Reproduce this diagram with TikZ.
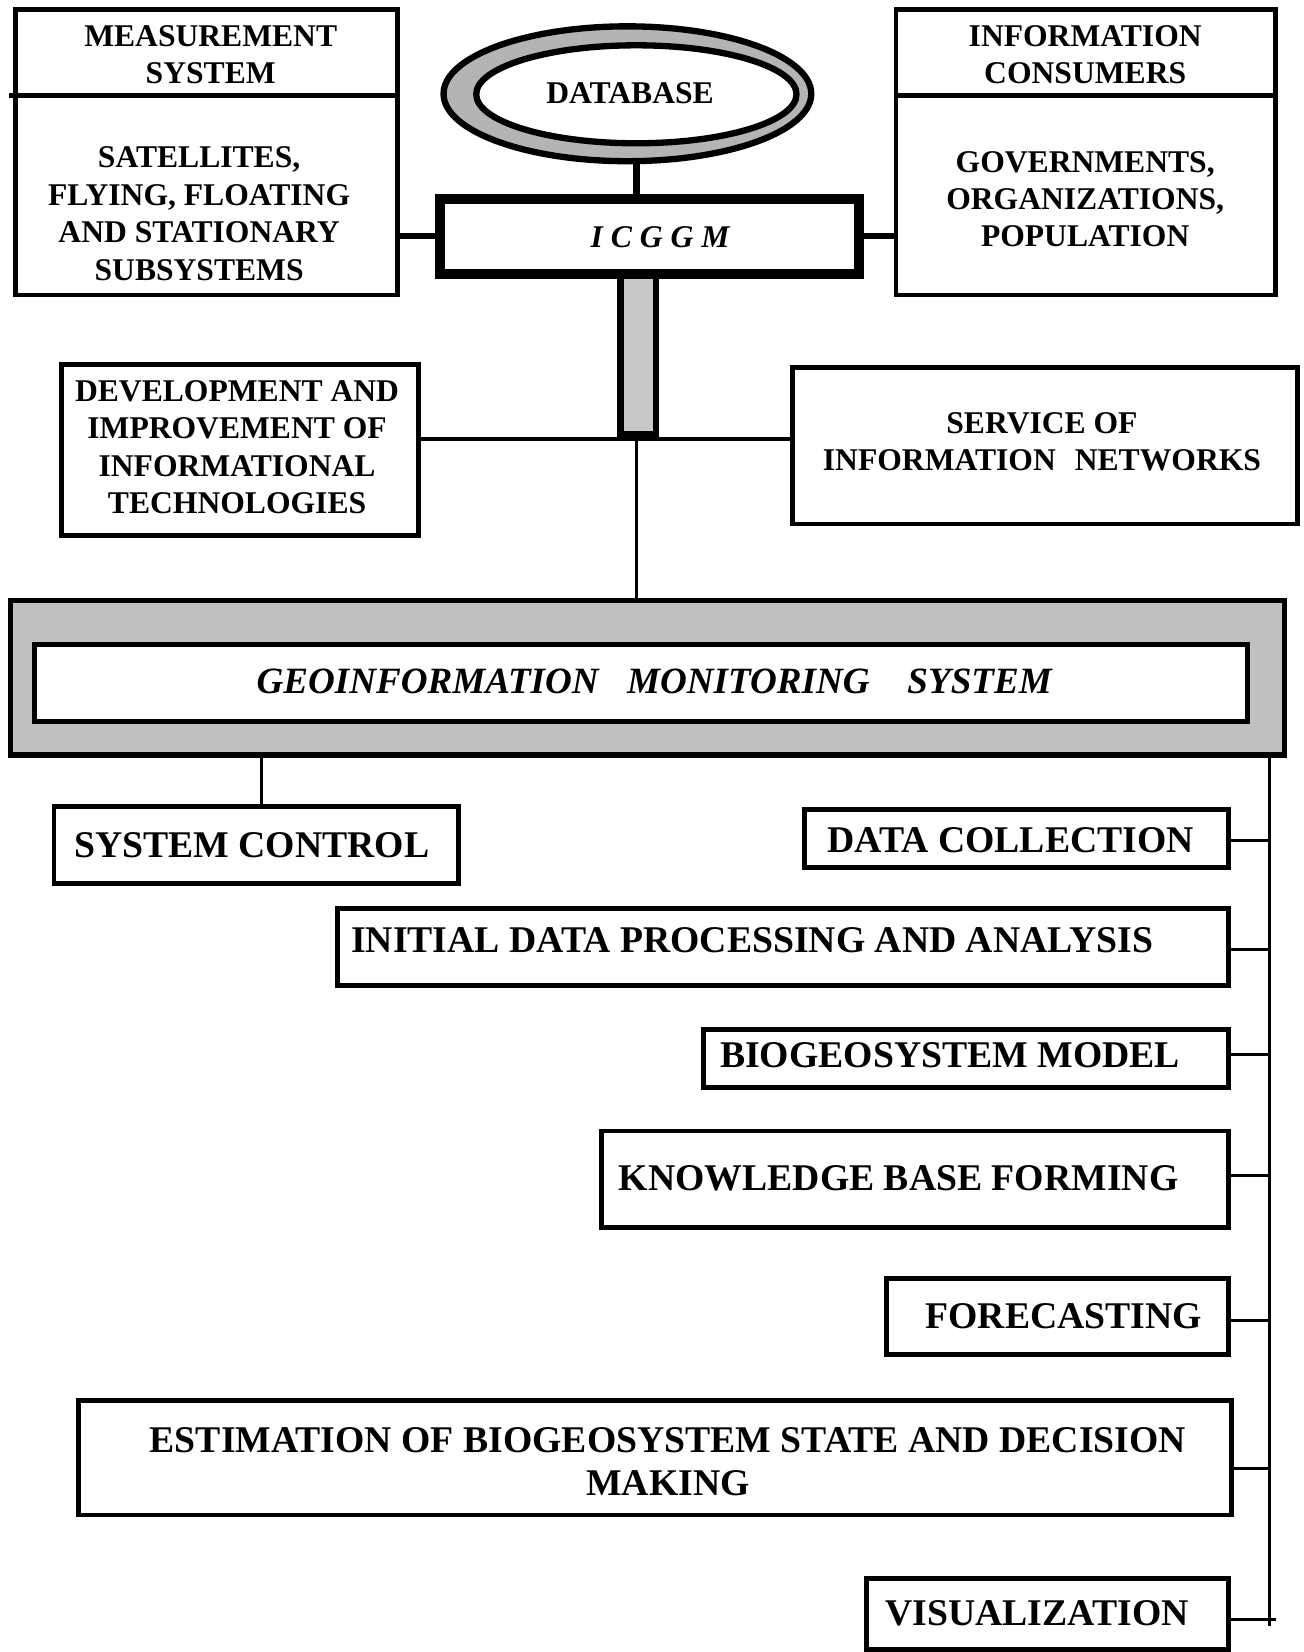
\documentclass[tikz,border=0pt]{standalone}
\usepackage{fontspec}
\setmainfont{Liberation Serif}
\usetikzlibrary{fit,shapes.geometric}
\definecolor{ringgray}{RGB}{180,180,180}
\definecolor{bargray}{RGB}{200,200,200}
\definecolor{gmsgray}{RGB}{192,192,192}
\begin{document}
\begin{tikzpicture}[x=0.5pt,y=-0.5pt,
  topbox/.style={draw, line width=2.3pt, inner sep=0pt},
  lowbox/.style={draw, line width=2.3pt, inner sep=0pt},
  tt/.style={font=\fontsize{15}{17.75}\selectfont\bfseries, align=center, inner sep=0pt, anchor=north},
  lt/.style={font=\fontsize{17.9}{20.5}\selectfont\bfseries, inner sep=0pt, anchor=north west},
  conn/.style={line width=2.8pt},
  stub/.style={line width=1.5pt},
]
\useasboundingbox (0,0) rectangle (1237,1568);

% ---------- database ----------
\node[ellipse, draw, line width=3pt, fill=ringgray, minimum width=174.5pt, minimum height=64pt, inner sep=0pt] (db) at (595.5,89) {};
\node[ellipse, draw, line width=3pt, fill=white, minimum width=152pt, minimum height=46.5pt, inner sep=0pt] (dbin) at (604,89.5) {};
\node[tt] (dbt) at (598,77.5) {DATABASE};

% ---------- bar and ICGGM ----------
\node[draw, line width=3pt, fill=bargray, inner sep=0pt, fit={(589,262)(622.5,412)}] (bar) {};
\node[draw, line width=4.8pt, fill=white, inner sep=0pt, fit={(418,188.6)(815.3,260)}] (ic) {};
\node[font=\fontsize{15}{18}\selectfont\bfseries\itshape, inner sep=0pt, anchor=north] (ict) at (626.5,215) {I C G G M};
\draw[line width=3pt] (dbin.south |- db.south) -- (dbin.south |- ic.north);

% ---------- measurement system ----------
\node[topbox, fit={(15,8.7)(377.2,280)}] (ms) {};
\coordinate (msd) at (8.8,91);
\draw[line width=2.3pt] (msd) -- (msd -| ms.east);
\node[tt] (mst) at (200,23.7) {MEASUREMENT\\SYSTEM};
\node[tt] (msb) at (189,139) {SATELLITES,\\FLYING, FLOATING\\AND STATIONARY\\SUBSYSTEMS};

% ---------- information consumers ----------
\node[topbox, fit={(850.4,9.2)(1210.3,280)}] (cons) {};
\coordinate (csd) at (850.4,91);
\draw[line width=2.3pt] (csd) -- (csd -| cons.east);
\node[tt] (cst) at (1030,23.7) {INFORMATION\\CONSUMERS};
\node[tt] (csb) at (1030,143) {GOVERNMENTS,\\ORGANIZATIONS,\\POPULATION};

\draw[conn] (ms.east |- ic.west) -- (ic.west);
\draw[conn] (ic.east) -- (ic.east -| cons.west);

% ---------- development / service ----------
\node[topbox, fit={(58,346.2)(397.2,508.3)}] (dev) {};
\node[tt] (devt) at (225,360.7) {DEVELOPMENT AND\\IMPROVEMENT OF\\INFORMATIONAL\\TECHNOLOGIES};
\node[topbox, fit={(752.2,349.2)(1231.4,497.3)}] (svc) {};
\node[tt] (svct) at (989,390.8) {SERVICE OF\\INFORMATION\hspace{0.6em}NETWORKS};
\coordinate (hj) at (604,416.4);
\draw[line width=1.9pt] (hj -| dev.east) -- (hj -| svc.west);

% ---------- geoinformation monitoring system ----------
\node[draw, line width=2.4pt, fill=gmsgray, inner sep=0pt, fit={(10.3,570.4)(1218.8,716.6)}] (gms) {};
\node[draw, line width=2.4pt, fill=white, inner sep=0pt, fit={(32.7,611.5)(1184,684.6)}] (gmsin) {};
\node[font=\fontsize{17.6}{20}\selectfont\bfseries\itshape, inner sep=0pt, anchor=north] (gmst) at (621,634.5) {GEOINFORMATION\hspace{13.5pt}MONITORING\hspace{18pt}SYSTEM};
\coordinate (vj) at (604,0);
\draw[line width=1.7pt] (vj |- bar.south) -- (vj |- gms.north);

% ---------- system control ----------
\node[lowbox, fit={(51.3,765.5)(435,838.9)}] (sc) {};
\node[lt] (sct) at (70,789.5) {SYSTEM CONTROL};
\coordinate (scj) at (248.5,0);
\draw[line width=1.3pt] (scj |- gms.south) -- (scj |- sc.north);

% ---------- right-hand chain ----------
\coordinate (bus) at (1205,0);
\coordinate (busend) at (1205,1543);
\draw[line width=1.3pt] (bus |- gms.south) -- (busend);

\node[lowbox, fit={(763.6,768)(1166,823.2)}] (dc) {};
\node[lt] (dct) at (785,784.8) {DATA COLLECTION};
\node[lowbox, fit={(320,862)(1166,935.5)}] (ip) {};
\node[lt] (ipt) at (333,879.7) {INITIAL DATA PROCESSING AND ANALYSIS};
\node[lowbox, fit={(667.4,977)(1166,1032)}] (bm) {};
\node[lt] (bmt) at (683,988.9) {BIOGEOSYSTEM MODEL};
\node[lowbox, fit={(571,1073.5)(1166,1165)}] (kb) {};
\node[lt] (kbt) at (587,1106) {KNOWLEDGE BASE FORMING};
\node[lowbox, fit={(841.3,1213.7)(1166,1286)}] (fc) {};
\node[lt] (fct) at (878,1237.3) {FORECASTING};
\node[lowbox, fit={(74.2,1329)(1169,1437.9)}] (es) {};
\node[font=\fontsize{17.9}{20.5}\selectfont\bfseries, align=center, inner sep=0pt, anchor=north] (est) at (634,1354.4) {ESTIMATION OF BIOGEOSYSTEM STATE AND DECISION\\MAKING};
\node[lowbox, fit={(822.8,1497.9)(1166,1566)}] (vz) {};
\node[lt] (vzt) at (840,1519) {VISUALIZATION};

\coordinate (b1) at (1205,797.4);
\coordinate (b2) at (1205,901.2);
\coordinate (b3) at (1205,1000.9);
\coordinate (b4) at (1205,1116);
\coordinate (b5) at (1205,1253.7);
\coordinate (b6) at (1205,1393.9);
\coordinate (b7) at (1211,1537);
\draw[stub] (b1 -| dc.east) -- (b1);
\draw[stub] (b2 -| ip.east) -- (b2);
\draw[stub] (b3 -| bm.east) -- (b3);
\draw[stub] (b4 -| kb.east) -- (b4);
\draw[stub] (b5 -| fc.east) -- (b5);
\draw[stub] (b6 -| es.east) -- (b6);
\draw[stub] (b7 -| vz.east) -- (b7);
\end{tikzpicture}
\end{document}
